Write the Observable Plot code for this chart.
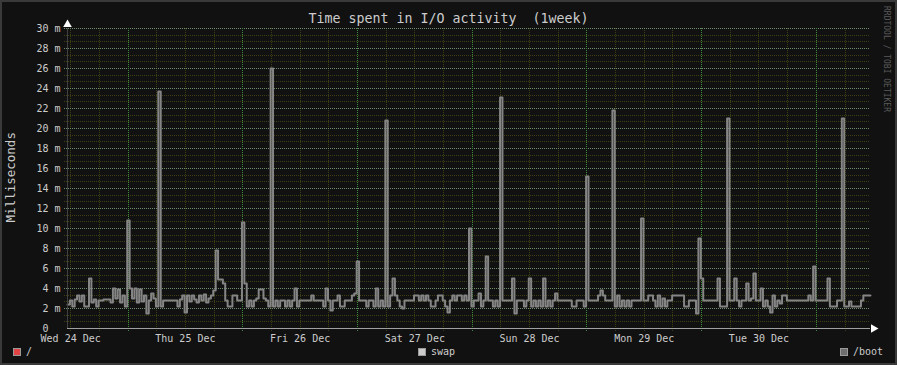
<!DOCTYPE html>
<html><head><meta charset="utf-8">
<script src="https://cdn.jsdelivr.net/npm/d3@7"></script>
<script src="https://cdn.jsdelivr.net/npm/@observablehq/plot@0.6"></script>
<style>
html,body{margin:0;padding:0;background:#111;}
#wrap{position:relative;width:897px;height:365px;overflow:hidden;font-family:"DejaVu Sans Mono",monospace;background:#111;}
#wrap svg{position:absolute;left:0;top:0;}
.t{position:absolute;white-space:pre;color:#cccccc;line-height:1;}
.sq{position:absolute;width:6px;height:6px;border:1px solid #9a9a9a;}
.frame{position:absolute;left:0;top:0;width:897px;height:365px;box-sizing:border-box;border:2px solid #3a3a3a;pointer-events:none}
</style></head>
<body><div id="wrap"></div>
<script>
// ---- data (Milliseconds, 30-minute samples starting Wed 24 Dec 11:20 UTC) ----
const startTime = "2014-12-24T11:20:00Z";
const stepMinutes = 30;
const bootValues = [
  2.4, 2.8, 2.2, 2.9, 3.3, 2.7, 3.3, 2.2, 2.2, 5.0, 2.6, 2.9,
  2.2, 2.8, 2.8, 2.9, 2.9, 2.9, 2.6, 4.0, 3.0, 3.9, 2.6, 3.3,
  2.2, 10.8, 4.0, 3.0, 4.0, 2.6, 3.9, 2.7, 3.3, 1.5, 2.8, 3.5,
  3.0, 2.2, 23.7, 2.2, 2.8, 2.8, 2.8, 2.8, 2.8, 2.8, 2.2, 2.9,
  3.3, 1.6, 3.3, 2.7, 3.3, 2.9, 2.6, 3.3, 2.8, 3.4, 2.6, 3.0,
  3.3, 3.8, 7.8, 4.9, 4.9, 4.5, 2.8, 2.2, 2.2, 3.3, 3.3, 2.8,
  2.8, 10.6, 4.5, 2.2, 2.8, 2.2, 2.8, 3.0, 3.9, 3.9, 3.0, 2.8,
  2.2, 26.0, 2.2, 2.8, 2.2, 2.8, 2.8, 2.2, 2.8, 2.2, 2.8, 4.0,
  2.2, 2.8, 2.8, 2.8, 2.8, 2.8, 3.3, 2.8, 2.8, 2.8, 2.8, 2.2,
  4.0, 2.8, 1.8, 2.8, 2.8, 3.3, 2.2, 2.2, 2.8, 2.8, 2.8, 3.3,
  3.5, 6.7, 2.8, 2.8, 2.8, 2.2, 2.8, 2.8, 2.2, 4.0, 2.2, 2.8,
  2.2, 20.8, 2.2, 3.3, 5.0, 3.3, 2.8, 2.2, 2.0, 2.8, 2.8, 2.8,
  2.8, 3.3, 3.3, 2.8, 3.3, 2.8, 3.3, 2.8, 2.2, 2.2, 2.8, 3.3,
  3.3, 2.8, 2.2, 1.6, 2.8, 3.3, 2.8, 3.3, 3.3, 2.8, 3.3, 2.8,
  10.0, 2.2, 2.8, 2.8, 3.5, 2.2, 2.8, 7.2, 2.8, 2.8, 2.2, 2.8,
  2.2, 23.1, 2.8, 2.8, 2.8, 2.8, 5.0, 1.5, 2.8, 2.8, 2.8, 2.2,
  2.8, 5.0, 2.2, 2.8, 2.2, 2.8, 2.2, 5.0, 2.2, 2.8, 2.2, 2.8,
  3.5, 2.8, 2.8, 2.8, 2.8, 2.8, 2.8, 2.2, 2.2, 2.8, 2.8, 2.8,
  2.2, 15.2, 2.8, 2.8, 2.8, 2.8, 3.3, 3.8, 3.3, 2.8, 2.8, 2.8,
  21.8, 2.2, 3.3, 2.2, 2.8, 2.2, 2.8, 2.2, 2.8, 2.8, 2.8, 2.8,
  11.0, 2.8, 2.8, 3.3, 3.3, 2.8, 2.2, 3.3, 2.2, 3.0, 2.2, 2.8,
  2.8, 3.3, 3.3, 3.3, 3.3, 3.3, 2.2, 2.2, 2.8, 2.8, 2.8, 1.5,
  9.0, 5.0, 2.8, 2.8, 2.8, 2.8, 2.8, 2.8, 5.0, 2.2, 2.2, 2.2,
  21.0, 2.8, 2.8, 5.0, 2.8, 2.2, 2.8, 2.8, 4.5, 2.8, 3.0, 5.5,
  2.8, 2.8, 4.0, 2.2, 2.8, 2.2, 1.6, 3.3, 2.2, 2.8, 2.5, 3.3,
  3.3, 2.8, 2.8, 2.8, 2.8, 2.8, 2.8, 2.8, 2.8, 2.8, 3.3, 2.8,
  6.2, 2.8, 2.8, 2.8, 2.8, 2.8, 5.0, 2.2, 2.2, 2.2, 2.8, 2.8,
  21.0, 2.2, 2.2, 2.7, 2.2, 2.2, 2.2, 2.2, 2.8, 3.3, 3.3, 3.3, 3.3
];
const yTicks = [0, 2, 4, 6, 8, 10, 12, 14, 16, 18, 20, 22, 24, 26, 28, 30];
const legendItems = [
  {label: "/", color: "#e04444"},
  {label: "swap", color: "#cccccc"},
  {label: "/boot", color: "#6e6e6e"}
];
const titleText = "Time spent in I/O activity  (1week)";
const yLabel = "Milliseconds";
const watermark = "RRDTOOL / TOBI OETIKER";

// ---- build ----
const start = new Date(startTime);
const end = new Date(+start + 7 * 864e5);
const data = bootValues.map((v, i) => ({t: new Date(+start + i * stepMinutes * 60000), v}));
const sixHours = d3.utcHour.every(6).range(start, end);
const midnights = sixHours.filter(d => d.getUTCHours() === 0);
const minorX = sixHours.filter(d => d.getUTCHours() !== 0);
const noons = sixHours.filter(d => d.getUTCHours() === 12);
const yMinor = d3.range(0, 90).map(k => k * 2 / 3).filter((d, k) => k % 3 !== 0 && d < 30);
const yMajor = yTicks.filter(d => d > 0);
const fmt = d3.utcFormat("%a %d %b");

const minorColor = "#3e3e16";
const majorColorH = "#6f8f6f";
const majorColorV = "#3f8a3f";

const chart = Plot.plot({
  width: 897, height: 365,
  marginLeft: 67, marginRight: 27, marginTop: 28, marginBottom: 37,
  style: {background: "transparent", color: "#cccccc", fontFamily: "DejaVu Sans Mono, monospace", fontSize: "10px"},
  x: {type: "utc", domain: [start, end]},
  y: {domain: [0, 30]},
  marks: [
    Plot.ruleY(yMinor, {stroke: minorColor, strokeDasharray: "1,1", insetLeft: -3, shapeRendering: "crispEdges"}),
    Plot.ruleX(minorX, {stroke: minorColor, strokeDasharray: "1,1", insetBottom: -3, shapeRendering: "crispEdges"}),
    Plot.ruleY(yMajor, {stroke: majorColorH, strokeDasharray: "1,1", insetLeft: -3, shapeRendering: "crispEdges"}),
    Plot.ruleX(midnights, {stroke: majorColorV, strokeDasharray: "1,1", insetBottom: -3, shapeRendering: "crispEdges"}),
    Plot.line(data, {x: "t", y: "v", stroke: "#858585", strokeWidth: 2, curve: "step-after"}),
    Plot.ruleY([0], {stroke: "#a0a0a0", shapeRendering: "crispEdges"}),
    Plot.ruleX([start], {stroke: "#404040", shapeRendering: "crispEdges"}),
    Plot.dot([{t: end, v: 0}], {x: "t", y: "v", symbol: "triangle", r: 3.2, fill: "#ffffff", stroke: null, rotate: 90, dx: 3}),
    Plot.dot([{t: start, v: 30}], {x: "t", y: "v", symbol: "triangle", r: 3.2, fill: "#ffffff", stroke: null, dy: -4}),
    Plot.axisY({ticks: yTicks, tickSize: 0, tickPadding: 7, label: null, tickFormat: d => d === 0 ? "0\u00a0\u00a0" : d + " m", fill: "#cccccc"}),
    Plot.axisX({ticks: noons, tickSize: 0, tickPadding: 6, label: null, tickFormat: fmt, fill: "#cccccc"})
  ]
});

const wrap = document.getElementById("wrap");
wrap.appendChild(chart);

function addText(txt, css) {
  const d = document.createElement("div");
  d.className = "t";
  d.textContent = txt;
  Object.assign(d.style, css);
  wrap.appendChild(d);
  return d;
}
addText(titleText, {left: "0px", width: "897px", textAlign: "center", top: "12px", fontSize: "13.3px"});
addText(yLabel, {left: "-89px", width: "200px", textAlign: "center", top: "171px", fontSize: "12.5px", transform: "rotate(-90deg)"});
addText(watermark, {left: "786px", width: "200px", textAlign: "center", top: "55px", fontSize: "8px", color: "#5a5a5a", transform: "rotate(90deg)"});

const legendPos = [{sq: 13, tx: 26}, {sq: 418, tx: 431}, {sq: 840, tx: 853}];
legendItems.forEach((it, i) => {
  const s = document.createElement("div");
  s.className = "sq";
  Object.assign(s.style, {left: legendPos[i].sq + "px", top: "348px", background: it.color});
  wrap.appendChild(s);
  addText(it.label, {left: legendPos[i].tx + "px", top: "347px", fontSize: "10px"});
});
const fr = document.createElement("div");
fr.className = "frame";
wrap.appendChild(fr);
</script></body></html>
